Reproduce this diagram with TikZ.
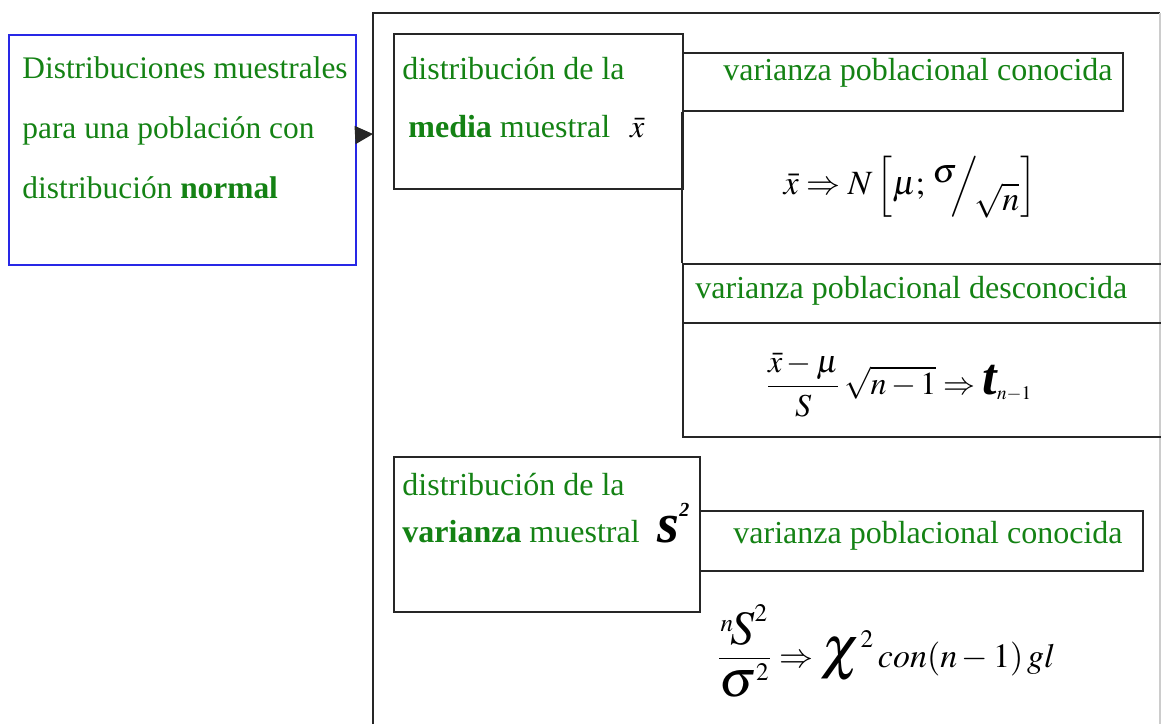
\documentclass[tikz,border=0pt]{standalone}
\usepackage{mathptmx}
\usepackage{amsmath}
\usepackage[no-math]{fontspec}
\setmainfont{Liberation Serif}
\usetikzlibrary{arrows.meta,positioning}
\definecolor{tgreen}{RGB}{20,130,20}
\definecolor{bblue}{RGB}{40,40,230}
\tikzset{edge/.style={color=black!85, line width=0.9pt},
  box/.style={edge, draw, rectangle, inner sep=0pt, anchor=north west},
  txt/.style={text=tgreen, font=\fontsize{16}{#1}\selectfont, align=left, inner sep=0pt},
  txt/.default=20pt,
  formula/.style={font=\fontsize{17}{20}\selectfont, inner sep=0pt}}

\begin{document}
\begin{tikzpicture}[x=0.5pt, y=-0.5pt]
    \useasboundingbox (0,0) rectangle (1161,724);

    % outer frame
    \draw[edge] (373,724) |- (1160,13);
    \draw[black!20, line width=0.6pt] (1160,13) -- (1160,724);
    \coordinate (framew) at (373,134);

    % left box
    \node[box, draw=bblue, minimum width=173.5pt, minimum height=115pt] (distbox) at (8,34) {};
    \node[txt=30pt, font=\fontsize{15.7}{30}\selectfont, anchor=north west] (disttxt) at (22,56)
        {Distribuciones muestrales\\para una población con\\distribución \textbf{normal}};
    \draw[edge, -{Triangle[length=9pt,width=9pt]}] ([yshift=7.5pt]distbox.east) -- (framew);

    % media
    \node[box, minimum width=144.5pt, minimum height=77.5pt] (media) at (393,33) {};
    \node[txt=29pt, anchor=north west] (mediatxt) at (402,57)
        {distribución de la\\\hspace*{3pt}\textbf{media} muestral\hspace{10pt}{\color{black}$\bar{x}$}};

    \node[box, minimum width=220pt, minimum height=29pt] (conoc1) at (682,52) {};
    \node[txt, anchor=base west] (conoc1txt) at (723,80) {varianza poblacional conocida};
    \node[formula] (f1) at (910,187)
        {$\bar{x}\Rightarrow N\left[\mu;\,{}^{\textstyle\sigma}\!\!\Big/\!{}_{\textstyle\sqrt{n}}\right]$};

    \node[box, minimum width=250pt, minimum height=29.5pt] (desc) at (682,263) {};
    \node[txt, anchor=base west] (desctxt) at (695,298) {varianza poblacional desconocida};
    \node[box, minimum width=250pt, minimum height=57pt] (tbox) at (682,322) {};
    \node[formula, font=\fontsize{16}{20}\selectfont] (f2) at (899,385)
        {$\dfrac{\bar{x}-\mu}{S}\,\sqrt{n-1}\Rightarrow\text{\fontsize{26}{26}\selectfont\bfseries\itshape t}_{\scriptscriptstyle n-1}$};
    \draw[edge] (conoc1.south west) -- (desc.north west);

    % varianza
    \node[box, minimum width=153pt, minimum height=77.5pt] (varbox) at (393,456) {};
    \node[txt=23.5pt, anchor=north west] (vartxt) at (402,473)
        {distribución de la\\\textbf{varianza} muestral\hspace{9pt}{\color{black}\fontsize{28}{28}\selectfont\bfseries\itshape s\raisebox{13pt}{\fontsize{10}{10}\selectfont 2}}};

    \node[box, minimum width=221.5pt, minimum height=30pt] (conoc2) at (699,510) {};
    \node[txt, anchor=base west] (conoc2txt) at (733,543) {varianza poblacional conocida};
    \node[formula] (f3) at (886,651)
        {$\dfrac{{}^{n}\!\mbox{\fontsize{24}{24}\selectfont$S$}^{2}}{\mbox{\fontsize{26}{26}\selectfont$\sigma$}^{2}}\Rightarrow\mbox{\fontsize{30}{30}\selectfont$\chi$}^{2}\,con(n-1)\,gl$};

\end{tikzpicture}
\end{document}
